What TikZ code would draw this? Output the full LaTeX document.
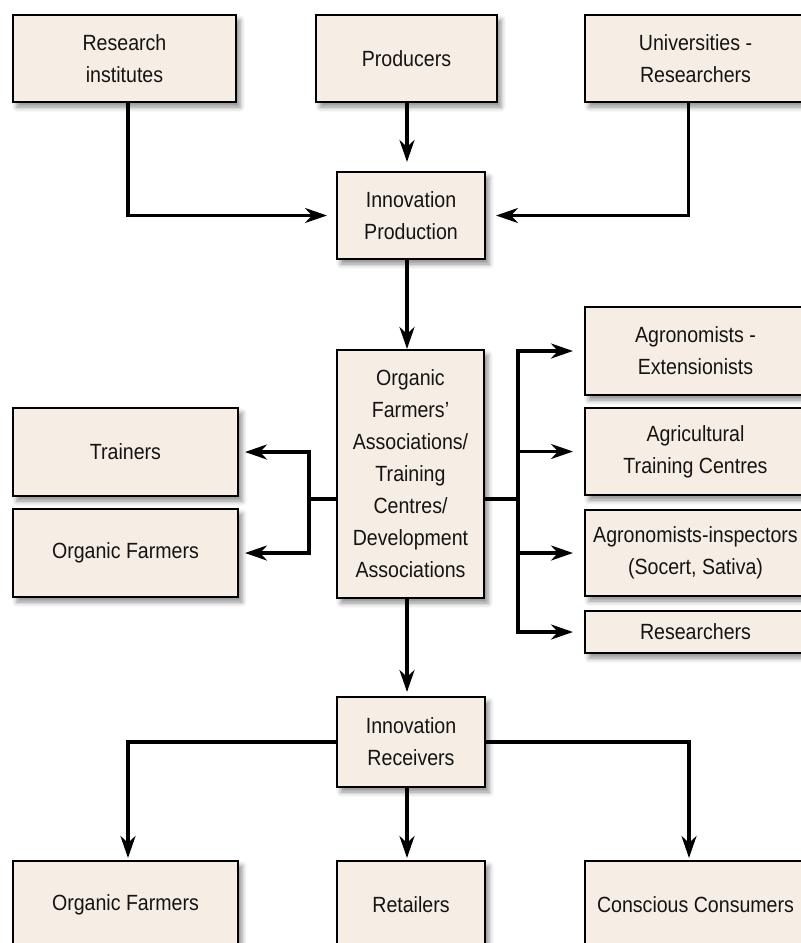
\documentclass[tikz,border=0pt]{standalone}
\usepackage{fontspec}
\setmainfont{Liberation Sans}[FakeStretch=0.89]
\usetikzlibrary{arrows.meta,shadows.blur}
\definecolor{boxfill}{RGB}{246,238,228}
\definecolor{txt}{RGB}{20,20,20}
\begin{document}
\begin{tikzpicture}[x=1pt,y=-1pt,
  box/.style={draw=black, line width=2.2pt, fill=boxfill, text=txt, align=center,
    inner sep=0pt, outer sep=0pt, font=\fontsize{22}{32}\selectfont,
    blur shadow={shadow xshift=4pt, shadow yshift=-5pt, shadow blur radius=5pt, shadow opacity=45}},
  conn/.style={line width=3.5pt, line cap=butt},
  arr/.style={conn, -{Stealth[length=22pt,width=15pt,inset=7pt]}},
]
\useasboundingbox (0,0) rectangle (801,943);
\clip (0,0) rectangle (801,943);

\node[box, minimum width=223pt, minimum height=87pt] (ri) at (124.5,58.5) {Research\\institutes};
\node[box, minimum width=181pt, minimum height=87pt] (prod) at (406.5,58.5) {Producers};
\node[box, minimum width=221pt, minimum height=87pt] (univ) at (695.5,58.5) {Universities -\\Researchers};
\node[box, minimum width=148pt, minimum height=87pt] (ip) at (411,215.5) {Innovation\\Production};
\node[box, minimum width=147pt, minimum height=248pt] (ctr) at (410.5,474) {Organic\\Farmers’\\Associations/\\Training\\Centres/\\Development\\Associations};
\node[box, minimum width=221pt, minimum height=88pt] (agro) at (695.5,351) {Agronomists -\\Extensionists};
\node[box, minimum width=221pt, minimum height=87pt] (agtc) at (695.5,451.5) {Agricultural\\Training Centres};
\node[box, minimum width=221pt, minimum height=86pt] (insp) at (695.5,553) {Agronomists-inspectors\\(Socert, Sativa)};
\node[box, minimum width=221pt, minimum height=42pt] (res) at (695.5,632) {Researchers};
\node[box, minimum width=225pt, minimum height=88pt] (tr) at (125.5,452) {Trainers};
\node[box, minimum width=225pt, minimum height=88pt] (of1) at (125.5,553) {Organic Farmers};
\node[box, minimum width=148pt, minimum height=90pt] (recv) at (411,742) {Innovation\\Receivers};
\node[box, minimum width=225pt, minimum height=87pt] (of2) at (125.5,904.5) {Organic Farmers};
\node[box, minimum width=148pt, minimum height=87pt] (ret) at (411,904.5) {Retailers};
\node[box, minimum width=221pt, minimum height=87pt] (cc) at (695.5,904.5) {Conscious Consumers};

\coordinate (sp) at (407,0);
\coordinate (jl) at (309,499);
\coordinate (jr) at (518,499);

\draw[arr, shorten >=10pt] (prod.south -| sp) -- (ip.north -| sp);
\draw[arr, shorten >=10pt] ([xshift=3.5pt]ri.south) |- (ip.west);
\draw[arr, shorten >=11pt] ([xshift=-7pt]univ.south) |- (ip.east);
\draw[arr, shorten >=1pt] (ip.south -| sp) -- (ctr.north -| sp);

\draw[conn] (ctr.west |- jl) -- (jl);
\draw[arr, shorten >=7pt] (jl) |- (tr.east);
\draw[arr, shorten >=7pt] (jl) |- (of1.east);

\draw[conn] (ctr.east |- jr) -- (jr);
\draw[arr, shorten >=12pt] (jr) |- (agro.west);
\draw[arr, shorten >=12pt] (jr) |- (agtc.west);
\draw[arr, shorten >=12pt] (jr) |- (insp.west);
\draw[arr, shorten >=12pt] (jr) |- (res.west);

\draw[arr, shorten >=5pt] (ctr.south -| sp) -- (recv.north -| sp);
\draw[arr, shorten >=3pt] (recv.south -| sp) -- (ret.north -| sp);
\draw[arr, shorten >=3pt] (recv.west) -| ([xshift=2.5pt]of2.north);
\draw[arr, shorten >=3pt] (recv.east) -| ([xshift=-6.5pt]cc.north);
\end{tikzpicture}
\end{document}
